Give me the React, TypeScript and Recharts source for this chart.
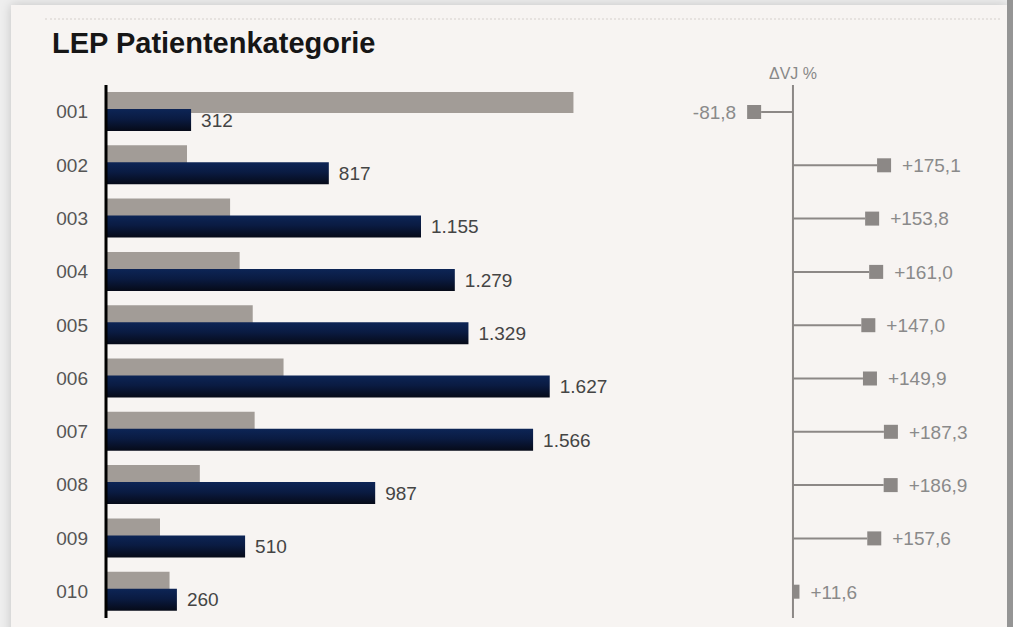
import React from "react"
import { BarChart, Bar, XAxis, YAxis, LabelList, ReferenceLine } from "recharts"

const categories = ["001", "002", "003", "004", "005", "006", "007", "008", "009", "010"]
const currentYear = [312, 817, 1155, 1279, 1329, 1627, 1566, 987, 510, 260]
const previousYear = [1714, 297, 455, 490, 538, 651, 545, 344, 198, 233]
const deltaPct = [-81.8, 175.1, 153.8, 161.0, 147.0, 149.9, 187.3, 186.9, 157.6, 11.6]

const data = categories.map((cat, i) => ({
  cat,
  prev: previousYear[i],
  cur: currentYear[i],
  delta: deltaPct[i],
}))

const FONT = '"Liberation Sans", Arial, sans-serif'
const GRAY = "#8c8886"
const CHART_H = 627
const MARGIN = { top: 85, right: 0, bottom: 9, left: 0 }

const fmtThousands = (v: any) => Number(v).toLocaleString("de-DE")
const fmtDelta = (v: number) => (v > 0 ? "+" : "") + v.toFixed(1).replace(".", ",")

function Lollipop(props: any) {
  const { x, y, width, height, value } = props
  const v = Array.isArray(value) ? value[1] : value
  const a = x
  const b = x + width
  const zeroX = v >= 0 ? Math.min(a, b) : Math.max(a, b)
  const endX = v >= 0 ? Math.max(a, b) : Math.min(a, b)
  const cy = y + height / 2
  const mk = 14
  const mStart = v >= 0 ? Math.max(zeroX, endX - mk) : Math.min(zeroX, endX + mk)
  return (
    <g>
      <line x1={zeroX} x2={mStart} y1={cy} y2={cy} stroke={GRAY} strokeWidth={2} />
      <rect
        x={Math.min(mStart, endX)}
        y={cy - mk / 2}
        width={Math.abs(endX - mStart)}
        height={mk}
        fill={GRAY}
      />
      <text
        x={v >= 0 ? endX + 11 : endX - 11}
        y={cy}
        dy="0.36em"
        textAnchor={v >= 0 ? "start" : "end"}
        fill="#8a8a8a"
        fontSize={19}
        fontFamily={FONT}
      >
        {fmtDelta(v)}
      </text>
    </g>
  )
}

export default function App() {
  return (
    <div style={{ position: "absolute", left: 0, top: 0, width: 1013, height: 627, overflow: "hidden", background: "#eeeeee", fontFamily: FONT }}>
      <div style={{ position: "absolute", left: 11, top: 5, width: 996, height: 640, background: "#f7f4f2", boxShadow: "0 0 10px rgba(0,0,0,0.18)" }} />
      <div style={{ position: "absolute", left: 1007, top: 0, width: 6, height: 627, background: "#959595" }} />
      <div style={{ position: "absolute", left: 45, top: 18, width: 955, borderTop: "2px dotted #e6e2df" }} />
      <div style={{ position: "absolute", left: 52, top: 29, fontSize: 29, fontWeight: 700, lineHeight: 1, color: "#161616", whiteSpace: "nowrap" }}>
        LEP Patientenkategorie
      </div>

      <div style={{ position: "absolute", left: 0, top: 0 }}>
        <BarChart width={706} height={CHART_H} data={data} layout="vertical" margin={MARGIN} barGap={-4}>
          <defs>
            <linearGradient id="navy" x1="0" y1="0" x2="0" y2="1">
              <stop offset="0%" stopColor="#0d2556" />
              <stop offset="45%" stopColor="#0a1b42" />
              <stop offset="100%" stopColor="#060a18" />
            </linearGradient>
          </defs>
          <XAxis type="number" domain={[0, 2200]} allowDataOverflow hide />
          <YAxis
            type="category"
            dataKey="cat"
            width={106}
            tickLine={false}
            tickSize={0}
            tickMargin={18}
            axisLine={{ stroke: "#000", strokeWidth: 3 }}
            tick={{ fill: "#555", fontSize: 19, fontFamily: FONT }}
          />
          <Bar dataKey="prev" barSize={21} fill="#a29c97" isAnimationActive={false} />
          <Bar dataKey="cur" barSize={22} fill="url(#navy)" isAnimationActive={false}>
            <LabelList
              dataKey="cur"
              position="right"
              offset={10}
              formatter={fmtThousands}
              fill="#444"
              fontSize={19}
              fontFamily={FONT}
            />
          </Bar>
        </BarChart>
      </div>

      <div style={{ position: "absolute", left: 640, top: 0 }}>
        <BarChart width={367} height={CHART_H} data={data} layout="vertical" margin={MARGIN}>
          <XAxis type="number" domain={[-273, 382]} allowDataOverflow hide />
          <YAxis type="category" dataKey="cat" hide />
          <ReferenceLine
            x={0}
            stroke={GRAY}
            strokeWidth={2}
            label={{ value: "ΔVJ %", position: "top", offset: 6, fill: "#888", fontSize: 16, fontFamily: FONT }}
          />
          <Bar dataKey="delta" barSize={14} shape={Lollipop} isAnimationActive={false} />
        </BarChart>
      </div>
    </div>
  )
}
